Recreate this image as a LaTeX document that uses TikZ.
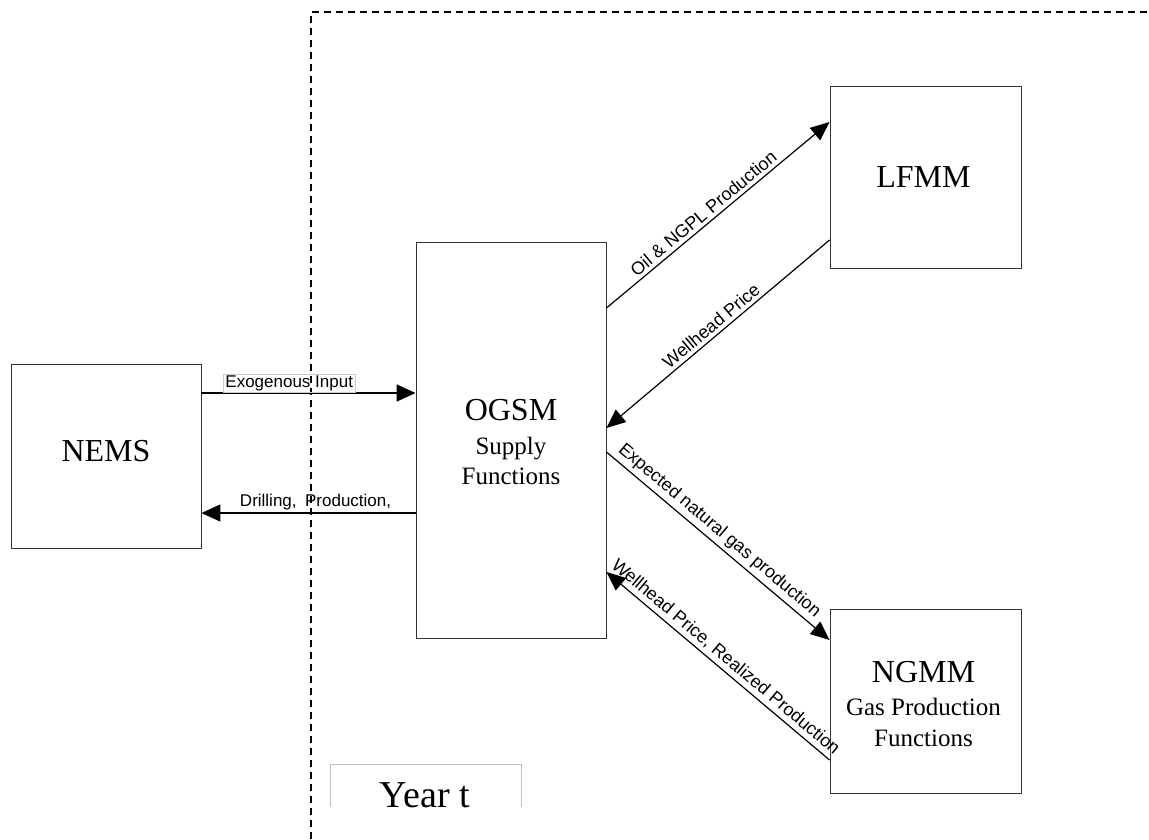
\documentclass[tikz,border=0pt]{standalone}
\usepackage{fontspec}
\setmainfont{Liberation Serif}
\newfontfamily\arialfont{Liberation Sans}
\usetikzlibrary{arrows.meta}
\begin{document}
\begin{tikzpicture}[x=1pt,y=-1pt,
  mbox/.style={draw=black!80, line width=0.9pt, inner sep=0pt},
  big/.style={font=\fontsize{32}{34}\selectfont, anchor=base, inner sep=0pt},
  sub/.style={font=\fontsize{25}{28}\selectfont, anchor=base, inner sep=0pt},
  lab/.style={font=\arialfont\fontsize{17}{19}\selectfont, inner sep=2pt},
  dlab/.style={font=\arialfont\fontsize{18}{20}\selectfont, inner sep=3.5pt, sloped, above},
  harr/.style={line width=1.6pt, -{Triangle[length=19pt,width=17pt]}},
  darr/.style={line width=1.2pt, -{Triangle[length=19pt,width=16pt]}},
  border/.style={line width=1.6pt, dash pattern=on 7pt off 5pt}]
\useasboundingbox (0,0) rectangle (1149,839);
% dashed region border
\draw[border] (311,839) -- (311,12) -- (1149,12);
% boxes
\node[mbox, minimum width=190pt, minimum height=184pt] (nems) at (106,456) {};
\node[mbox, minimum width=190pt, minimum height=396pt] (ogsm) at (511,440) {};
\node[mbox, minimum width=191pt, minimum height=182pt] (lfmm) at (925.5,177) {};
\node[mbox, minimum width=191pt, minimum height=184pt] (ngmm) at (925.5,701) {};
% box texts
\node[big] (nemsT) at (106,461) {NEMS};
\node[big] (ogsmT) at (511,420) {OGSM};
\node[sub] (ogsmS) at (511,454) {Supply};
\node[sub] (ogsmF) at (511,484) {Functions};
\node[big] (lfmmT) at (923.5,187) {LFMM};
\node[big] (ngmmT) at (923.5,682) {NGMM};
\node[sub] (ngmmG) at (923.5,715) {Gas Production};
\node[sub] (ngmmF) at (923.5,746) {Functions};
% Year t
\draw[gray!50, line width=0.9pt] (330,807) -- (330,764) -- (521,764) -- (521,807);
\node[font=\fontsize{38}{40}\selectfont, anchor=base, inner sep=0pt] (yeart) at (425,807) {Year t};
% connectors
\draw[harr] (nems.east |- 0,393) -- node[lab, draw=gray!40, line width=0.6pt, pos=0.41, above=0pt, inner ysep=1.5pt] (exo) {Exogenous Input} (ogsm.west |- 0,393);
\draw[harr] (ogsm.west |- 0,513) -- node[lab, pos=0.467, above=0pt] (drill) {Drilling,\hspace{0.5em}Production,} (nems.east |- 0,513);
\draw[darr] (ogsm.east |- 0,308) -- node[dlab, pos=0.465] (oil) {Oil \& NGPL Production} (lfmm.west |- 0,122);
\draw[darr] (lfmm.west |- 0,240) -- node[dlab, pos=0.5] (wp) {Wellhead Price} (ogsm.east |- 0,428);
\draw[darr] (ogsm.east |- 0,452) -- node[dlab, pos=0.47] (expct) {Expected natural gas production} (ngmm.west |- 0,640);
\draw[darr] (ngmm.west |- 0,760) -- node[dlab, pos=0.5] (wpr) {Wellhead Price, Realized Production} (ogsm.east |- 0,572);
\end{tikzpicture}
\end{document}
